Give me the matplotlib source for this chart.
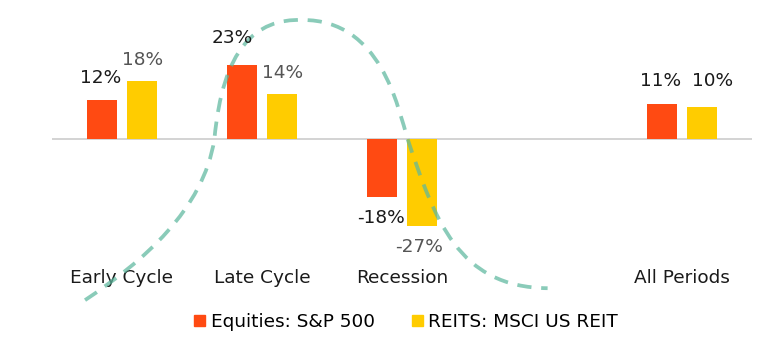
import matplotlib
matplotlib.use("Agg")
import matplotlib.pyplot as plt
import matplotlib.transforms as mtransforms
from matplotlib.patches import Patch, PathPatch
from matplotlib.path import Path

categories = ["Early Cycle", "Late Cycle", "Recession", "", "All Periods"]
equities = [12, 23, -18, None, 11]
reits = [18, 14, -27, None, 10]
series_names = ["Equities: S&P 500", "REITS: MSCI US REIT"]

# decorative business-cycle curve: cubic Bezier vertices (category units, % units)
curve_vertices = [(-0.264, -50), (0.15, -38), (0.58, -22), (0.66, 0),
                  (0.72, 28), (0.95, 37.5), (1.29, 37),
                  (1.85, 37), (1.97, 10), (2.04, 0),
                  (2.234, -25), (2.40, -46), (3.04, -46.3)]

RED = "#FF4A12"
YEL = "#FFCC00"
plt.rcParams['font.family'] = ['DejaVu Sans']

fig = plt.figure(figsize=(7.8, 3.51), dpi=100)
ax = fig.add_axes([52/780, 0, 700/780, 1])
ax.set_xlim(-0.5, 4.5)
ax.set_ylim(-65.8, 43.2)
ax.axis("off")

w = 0.221
off = 0.143
for i, (e, r) in enumerate(zip(equities, reits)):
    if e is None:
        continue
    ax.bar(i - off, e, width=w, color=RED, zorder=2)
    ax.bar(i + off, r, width=w, color=YEL, zorder=2)

ax.axhline(0, color="#cccccc", lw=1.2, zorder=1)

fs = 13.3
lab_eq = {0: (-0.15, 12 + 7), 1: (-0.21, 23 + 8.5), 2: (-0.15, -18 - 6.5), 4: (-0.15, 11 + 7)}
lab_re = {0: (0.15, 18 + 6.5), 1: (0.15, 14 + 6.5), 2: (0.12, -27 - 6.5), 4: (0.22, 10 + 8.2)}
for i, (dx, y) in lab_eq.items():
    ax.text(i + dx, y, f"{equities[i]}%", ha="center", va="center", fontsize=fs,
            color="#1a1a1a", zorder=4)
for i, (dx, y) in lab_re.items():
    ax.text(i + dx, y, f"{reits[i]}%", ha="center", va="center", fontsize=fs,
            color="#555555" if i != 4 else "#1a1a1a", zorder=4)

trans = mtransforms.blended_transform_factory(ax.transData, ax.transAxes)
for i, c in enumerate(categories):
    if c:
        ax.text(i, 1 - 278/351, c, transform=trans, ha="center", va="center",
                fontsize=fs, color="#1a1a1a")

codes = [Path.MOVETO] + [Path.CURVE4] * (len(curve_vertices) - 1)
path = Path(curve_vertices, codes)
ax.add_patch(PathPatch(path, facecolor="none", edgecolor="#5DB89E", alpha=0.72,
                       lw=2.7, linestyle=(0, (3.8, 2.6)), capstyle="butt", zorder=3))

handles = [Patch(color=RED), Patch(color=YEL)]
fig.legend(handles, series_names, loc="center", bbox_to_anchor=(406/780, 1 - 322/351),
           ncol=2, frameon=False, fontsize=fs, handlelength=0.6, handleheight=0.6,
           handletextpad=0.3, columnspacing=2.0)

fig.savefig("out.png", dpi=100)
